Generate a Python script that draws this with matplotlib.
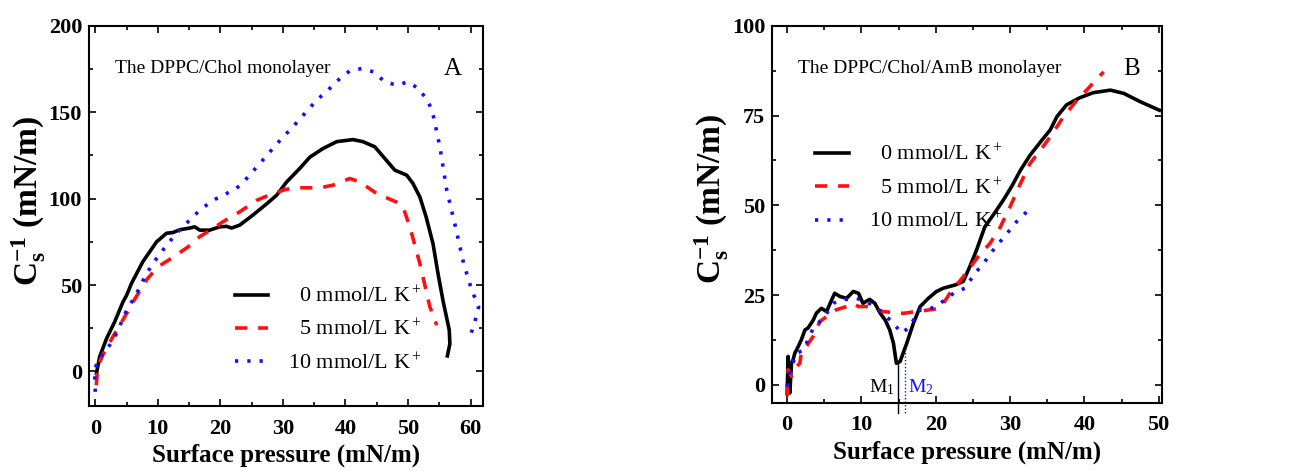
import numpy as np
import matplotlib.pyplot as plt
from matplotlib.ticker import MultipleLocator

plt.rcParams['font.family'] = ['Liberation Serif', 'DejaVu Serif']
plt.rcParams['mathtext.fontset'] = 'custom'
plt.rcParams['mathtext.rm'] = 'Liberation Serif'
plt.rcParams['mathtext.bf'] = 'Liberation Serif:bold'
plt.rcParams['mathtext.it'] = 'Liberation Serif:italic'

# Panel A: DPPC/Chol monolayer
a_p0 = [0.2, 0.7, 1.8, 3.1, 4.4, 5.0, 5.8, 7.6, 9.8, 11.4, 12.4, 13.5, 15.1, 15.9, 16.7, 18.3,
        19.9, 21.0, 21.8, 23.1, 25.2, 27.4, 29.0, 30.6, 32.7, 34.3, 36.4, 38.6, 41.2, 42.8,
        44.7, 46.6, 47.9, 49.8, 50.8, 51.9, 52.9, 54.0, 54.8, 55.6, 56.6, 56.7, 56.3]
a_cs0 = [-1, 8.5, 19, 28.7, 40, 44, 51, 63.5, 75, 80, 80.4, 82, 83, 83.7, 81.8, 81.8,
         83.7, 84, 83, 84.7, 90.5, 97, 102, 109.7, 117.5, 124, 129, 133, 134.2, 133,
         130, 122, 116.5, 113.6, 108.8, 101, 89.5, 74, 56.7, 41, 24, 16, 9]

a_p5 = [0.16, 0.4, 1.2, 2.8, 4.4, 6.0, 8.2, 10.0, 12.4, 14.8, 16.7, 18.8, 20.4, 23.1, 25.8,
        28.4, 30.6, 32.7, 35.9, 38.0, 40.7, 42.3, 45.0, 48.2, 49.2, 50.3, 51.9, 53.5, 54.6]
a_cs5 = [-8, 2.7, 9.5, 20, 29.7, 40, 53, 60.5, 66, 72, 78, 82.7, 86.6, 92.4, 99,
         103, 105.5, 106.3, 106.3, 107.8, 111.7, 109.7, 103, 98, 95.3, 83.7, 62.5, 37.4, 26.8]

a_p10 = [0.0, -0.1, 0.16, 1.2, 2.3, 3.4, 4.9, 6.6, 8.2, 9.8, 11.4, 13.0, 15.1, 16.7, 18.8,
         21.0, 22.6, 24.2, 26.3, 27.9, 29.8, 31.6, 33.5, 35.4, 37.2, 39.1, 40.7, 42.6, 44.5,
         46.3, 48.2, 50.0, 51.7, 53.3, 54.1, 55.1, 56.2, 57.6, 58.9, 60.2, 61.3, 60.7, 59.9]
a_cs10 = [-11.8, -1.2, 3.7, 10.4, 15.2, 22, 34.5, 45, 56.7, 65.4, 73, 80, 87.6, 93.3, 99,
          103, 106, 111.7, 120.3, 127, 134.8, 141.6, 149.3, 157, 162.8, 169.5, 174, 175.3, 173.4,
          167.6, 165.7, 167.6, 163.7, 156, 147.3, 130, 105, 83.7, 62.5, 47, 37.4, 28.7, 20]

# Panel B: DPPC/Chol/AmB monolayer
b_p0 = [0.0, 0.13, 0.36, 0.58, 0.8, 1.03, 1.5, 1.9, 2.4, 2.8, 3.5, 3.95, 4.6, 5.3, 6.0, 6.4,
        7.1, 8.0, 8.9, 9.6, 10.2, 11.1, 11.8, 12.5, 13.2, 13.8, 14.3, 14.7, 15.2, 16.1, 17.0,
        17.9, 19.0, 20.1, 21.0, 22.6, 23.7, 24.6, 25.5, 26.6, 27.9, 29.1, 30.2, 31.4, 32.7,
        34.3, 35.4, 36.3, 37.6, 39.4, 41.2, 43.5, 45.3, 47.5, 50.1]
b_cs0 = [-2.3, 7.9, -2.3, 6, 7, 8.8, 10.7, 12.5, 15.3, 15.8, 18, 20, 21.3, 20.4, 23.7, 25.5,
         24.6, 24.1, 26, 25.5, 22.7, 23.8, 22.7, 20, 18, 15.3, 11.6, 6, 6.5, 11.6, 17.2,
         21.8, 24.1, 26, 26.9, 27.8, 28.8, 33, 37.6, 44, 47.8, 51.5, 55.2, 59.8, 64,
         68.2, 71, 74.7, 78, 80, 81.4, 82.1, 81.2, 78.9, 76.5]

b_p5 = [0.0, 0.13, 0.58, 1.3, 1.7, 1.9, 2.6, 3.5, 4.4, 5.3, 6.6, 8.0, 8.9, 9.6, 11.1, 12.9,
        15.6, 17.4, 19.2, 20.6, 21.9, 23.7, 25.7, 27.3, 28.7, 30.0, 31.4, 32.7, 34.1, 35.4,
        37.2, 39.0, 40.3, 42.6]
b_cs5 = [-3.2, 4.2, 2.3, 5.1, 6, 8.8, 10.7, 13.5, 17.6, 19, 20.9, 21.8, 22.7, 21.8, 21.8, 20.4,
         19.9, 20.4, 20.9, 21.3, 25.5, 30.1, 35.7, 39.4, 44, 49.6, 56.1, 61.7, 65.4, 69.1,
         74.7, 79.3, 82.1, 87.2]

b_p10 = [0.0, 0.13, 0.58, 1.3, 2.2, 3.5, 4.9, 6.2, 7.5, 9.3, 10.7, 12.3, 14.1, 15.4, 16.3,
         17.9, 19.2, 20.6, 22.4, 23.9, 25.3, 26.6, 27.9, 29.6, 30.9, 32.5]
b_cs10 = [-0.5, 2.3, 5.1, 8.8, 9.7, 15.8, 18.6, 22.7, 23.7, 24.1, 23.2, 20.9, 17.6, 14.4, 15.8,
          20.9, 21.1, 22.7, 25.5, 26.9, 31.1, 34.3, 38, 42.2, 45.5, 48.7]

labels = ['\u20070 mmol/L K$^+$', '\u20075 mmol/L K$^+$', '10 mmol/L K$^+$']
m1_x, m1_top = 14.9, 6.0
m2_x, m2_top = 15.8, 10.0

styles = [dict(color='black', lw=2.6, ls='-'),
          dict(color='#ff1010', lw=2.6, ls=(0, (3.4, 3.0))),
          dict(color='#1010ff', lw=2.6, ls=(0, (0.9, 2.5)))]

fig = plt.figure(figsize=(13.09, 4.71), dpi=100)
axA = fig.add_axes([0.068, 0.138, 0.301, 0.807])
axB = fig.add_axes([0.590, 0.145, 0.298, 0.800])


def style_axis(ax, xmaj, ymaj):
    ax.xaxis.set_major_locator(MultipleLocator(xmaj))
    ax.xaxis.set_minor_locator(MultipleLocator(xmaj / 2))
    ax.yaxis.set_major_locator(MultipleLocator(ymaj))
    ax.yaxis.set_minor_locator(MultipleLocator(ymaj / 2))
    ax.tick_params(which='both', direction='in', top=True, right=True, width=1.2)
    ax.tick_params(which='major', length=5, labelsize=16, pad=5)
    ax.tick_params(axis='x', which='major', pad=9)
    ax.tick_params(which='minor', length=3)
    for lab in ax.get_xticklabels() + ax.get_yticklabels():
        lab.set_fontweight('bold')
    for sp in ax.spines.values():
        sp.set_linewidth(1.5)
    ax.set_xlabel('Surface pressure (mN/m)', fontsize=18, fontweight='bold', labelpad=4)
    ax.set_ylabel(r'$\mathbf{C_s^{-1}}$ (mN/m)', fontsize=24, fontweight='bold')
    ax.yaxis.set_label_coords(-0.105, 0.54)


for x, y, st, lab in zip([a_p0, a_p5, a_p10], [a_cs0, a_cs5, a_cs10], styles, labels):
    axA.plot(x, y, label=lab, **st)
axA.set_xlim(-1, 62)
axA.set_ylim(-20, 200)
style_axis(axA, 10, 50)
axA.text(0.066, 0.875, 'The DPPC/Chol monolayer', transform=axA.transAxes, fontsize=14)
axA.text(0.9, 0.87, 'A', transform=axA.transAxes, fontsize=18)
axA.legend(loc='upper left', bbox_to_anchor=(0.37, 0.315), frameon=False, fontsize=16,
           handlelength=1.5, handletextpad=0.9, labelspacing=0.55, borderpad=0, borderaxespad=0)

for x, y, st, lab in zip([b_p0, b_p5, b_p10], [b_cs0, b_cs5, b_cs10], styles, labels):
    axB.plot(x, y, label=lab, **st)
axB.set_xlim(-2, 50.5)
axB.set_ylim(-5, 100)
style_axis(axB, 10, 25)
axB.text(0.065, 0.875, 'The DPPC/Chol/AmB monolayer', transform=axB.transAxes, fontsize=14)
axB.text(0.9, 0.87, 'B', transform=axB.transAxes, fontsize=18)
axB.legend(loc='upper left', bbox_to_anchor=(0.11, 0.685), frameon=False, fontsize=16,
           handlelength=1.5, handletextpad=0.9, labelspacing=0.55, borderpad=0, borderaxespad=0)

# M1 / M2 markers below the dip
axB.plot([m1_x, m1_x], [m1_top, -8], color='black', lw=1, clip_on=False)
axB.plot([m2_x, m2_x], [m2_top, -8], color='#1010ff', lw=1, ls=(0, (1, 1.5)), clip_on=False)
axB.text(m1_x - 0.4, -2, 'M$_1$', ha='right', va='baseline', fontsize=14)
axB.text(m2_x + 0.4, -2, 'M$_2$', ha='left', va='baseline', fontsize=14, color='#1010ff')

fig.savefig('out.png', dpi=100)
